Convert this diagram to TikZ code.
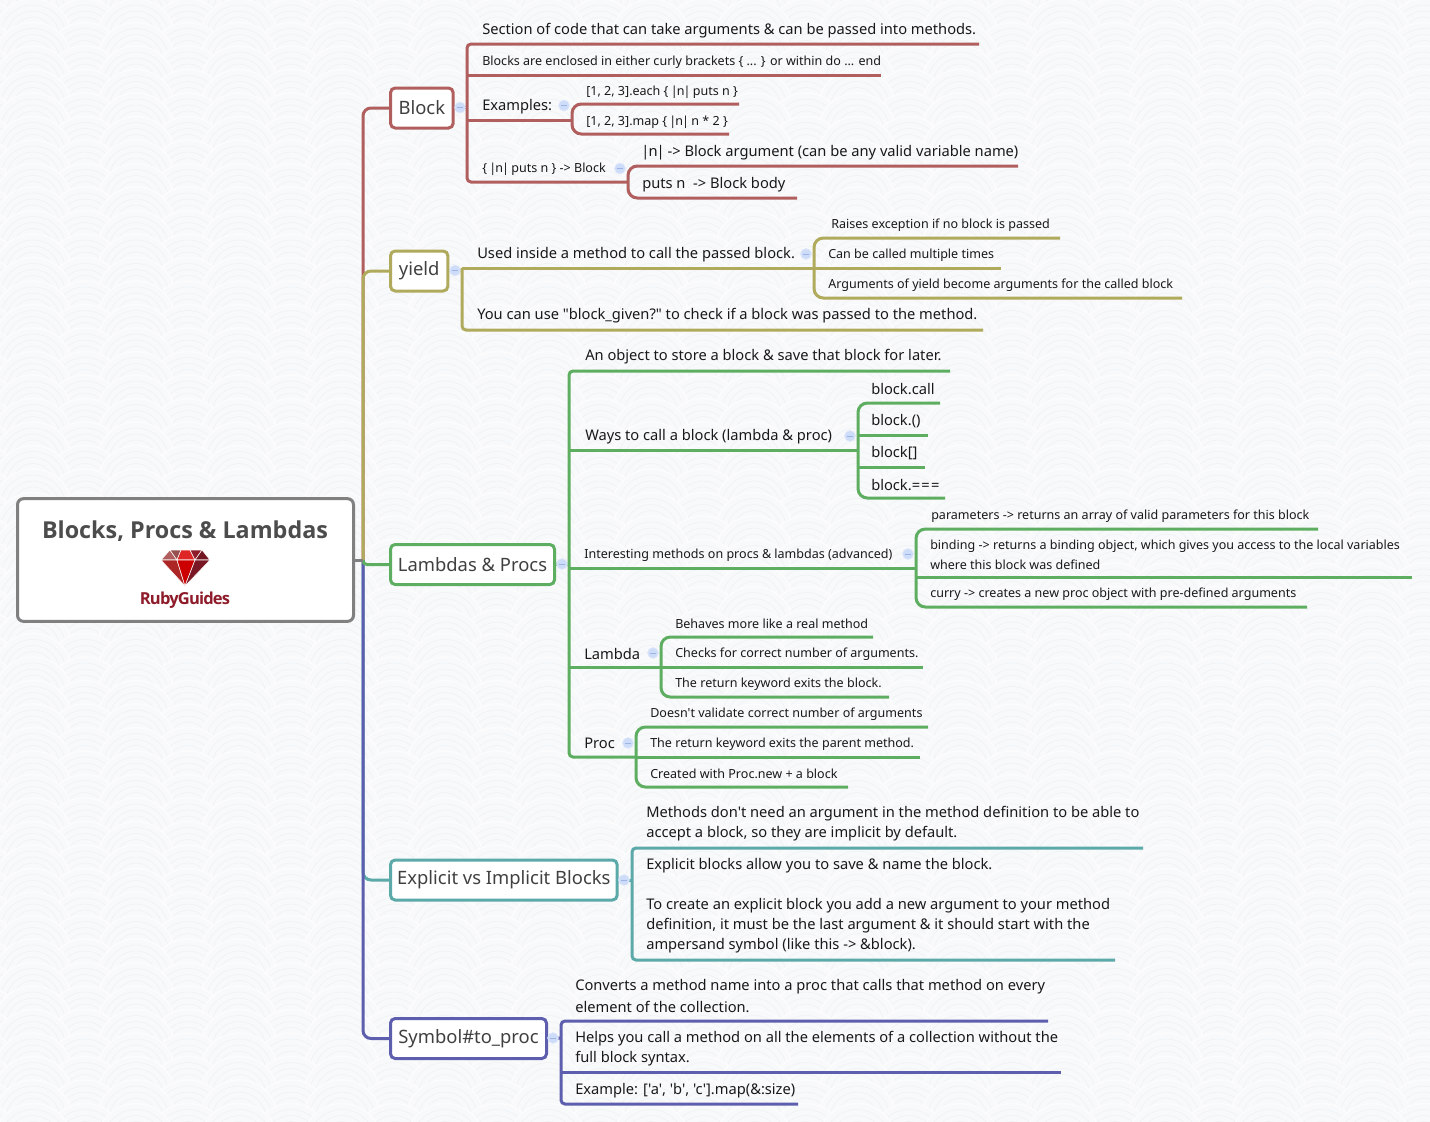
\documentclass[tikz,border=0pt]{standalone}
\usepackage{fontspec}
\usepackage{xcolor}
\usetikzlibrary{positioning}
\setmainfont{Noto Sans}[Ligatures=TeXOff]
\newfontfamily\headfont{Open Sans}[Ligatures=TeXOff]
\newcommand{\pipen}{\kern-.7pt|\kern-.7pt n\kern-.7pt|\kern-.7pt}
\definecolor{blockc}{HTML}{B05E5E}
\definecolor{yieldc}{HTML}{B0AA5C}
\definecolor{lambdac}{HTML}{5EAE62}
\definecolor{explicitc}{HTML}{5CA9AA}
\definecolor{symbolc}{HTML}{5E5EAE}
\definecolor{rootc}{HTML}{808080}
\definecolor{paperc}{HTML}{F8F9FA}
\definecolor{wavec}{HTML}{F0F1F3}
\definecolor{crestc}{HTML}{FCFCFD}
\definecolor{rubyc}{HTML}{8E1B2A}
\definecolor{togglec}{HTML}{CDDCF8}
\definecolor{togringc}{HTML}{DCE6FA}
\definecolor{togbarc}{HTML}{9DB4E4}
\tikzset{
	topic/.style={draw,fill=white,line width=2.25pt,rounded corners=3.5pt,anchor=west,minimum height=30pt,inner sep=0pt,text=black!75,font=\fontsize{13.8}{18}\selectfont},
	leaf/.style={anchor=base west,inner sep=0pt,text=black!90,font=\fontsize{11}{15}\selectfont},
	wee/.style={leaf,font=\fontsize{9.4}{15}\selectfont},
	lines/.style={leaf,anchor=west,align=left},
	twig/.style={line width=2.25pt},
	spine/.style={twig,rounded corners=3pt},
	curl/.style={twig,rounded corners=7pt},
	toggle/.style={circle,minimum size=8pt,inner sep=0pt,fill=togglec,draw=togringc,line width=.6pt,
		path picture={\draw[togbarc,line width=.6pt] ([xshift=-2.2pt]path picture bounding box.center) -- ([xshift=2.2pt]path picture bounding box.center);}}
}
\begin{document}
\begin{tikzpicture}[x=0.75pt,y=-0.75pt]
	\useasboundingbox (0,0) rectangle (1430,1121);
	% (paper)
	\begin{scope}
		\clip (0,0) rectangle (1430,1121);
		\fill[paperc] (0,0) rectangle (1430,1121);
		\foreach \r in {-2,...,47}{
			\foreach \cx in {-18,85,188,291,394,497,600,703,806,909,1012,1115,1218,1321,1424,33,136,239,342,445,548,651,754,857,960,1063,1166,1269,1372}{
				\filldraw[fill=paperc,draw=crestc,line width=1.2pt] (\cx,{\r*23.5+38}) circle (39);
				\draw[wavec,line width=.4pt] (\cx,{\r*23.5+38}) circle (33) circle (27) circle (21) circle (15);
			}
		}
	\end{scope}

	% (trunk)
	\coordinate (hub) at (363,560);
	\node[draw=rootc,fill=white,line width=2.25pt,rounded corners=4.5pt,minimum width=252pt,minimum height=92pt,inner sep=0pt] (root) at (185.5,560) {};
	\node[font=\headfont\bfseries\fontsize{17.5}{20}\selectfont,text=black!70] (title) at (185,531) {Blocks, Procs \& Lambdas};
	\node[font=\headfont\bfseries\fontsize{12.4}{14}\selectfont\addfontfeature{LetterSpace=-5},text=rubyc,inner sep=0pt] (brand) at (185,600) {RubyGuides};

	\begin{scope}[draw=white,line width=.4pt]
		\filldraw[fill=blockc] (170,550) -- (161,560) -- (177,560) -- cycle;
		\filldraw[fill=blockc!85!black] (170,550) -- (181,550) -- (177,560) -- cycle;
		\filldraw[fill=red!60!blockc] (181,550) -- (190,550) -- (195,560) -- (177,560) -- cycle;
		\filldraw[fill=rubyc] (190,550) -- (202,550) -- (195,560) -- cycle;
		\filldraw[fill=rubyc!80!black] (202,550) -- (210,560) -- (195,560) -- cycle;
		\filldraw[fill=red!50!blockc!80!black] (161,560) -- (177,560) -- (185,586) -- cycle;
		\filldraw[fill=red!80!black] (177,560) -- (195,560) -- (185,586) -- cycle;
		\filldraw[fill=rubyc!85!black] (195,560) -- (210,560) -- (185,586) -- cycle;
	\end{scope}

	% (topics)
	\node[topic,draw=blockc,minimum width=47pt] (block) at (389,108) {Block};
	\node[topic,draw=yieldc,minimum width=43pt] (yield) at (389,271) {yield};
	\node[topic,draw=lambdac,minimum width=123pt] (lambda) at (389,564.5) {Lambdas \& Procs};
	\node[topic,draw=explicitc,minimum width=170pt] (explicit) at (389,880) {Explicit vs Implicit Blocks};
	\node[topic,draw=symbolc,minimum width=117pt] (symbol) at (389,1038.5) {Symbol\#to\_proc};

	\draw[spine,blockc,rounded corners=6pt] (hub) -- (hub |- block) -- (block);
	\draw[spine,yieldc,rounded corners=6pt] (hub) -- (hub |- yield) -- (yield);
	\draw[spine,explicitc,rounded corners=6pt] (hub) -- (hub |- explicit) -- (explicit);
	\draw[spine,symbolc,rounded corners=6pt] (hub) -- (hub |- symbol) -- (symbol);
	\draw[spine,lambdac,rounded corners=3pt] (hub) -- (hub |- lambda) -- (lambda);
	\draw[twig,rootc] (root) -- (hub);

	% (Block)
	\coordinate (blockS) at (467,107.5);
	\node[leaf] (blockA) at (482,34) {Section of code that can take arguments \& can be passed into methods.};
	\coordinate (blockAe) at (979,44);
	\node[wee] (blockB) at (482,65) {Blocks are enclosed in either curly brackets \{ ... \} or within do ... end};
	\coordinate (blockBe) at (881,75);
	\node[leaf] (blockC) at (482,110) {Examples:};
	\coordinate (blockCe) at (572,120);
	\node[wee] (blockD) at (482,172.5) {\{ \pipen{} puts n \} -> Block};
	\coordinate (blockDe) at (628,182);
	\draw[twig,blockc] (block) -- (blockS);
	\draw[spine,blockc] (blockAe) -- (blockS |- blockAe) -- (blockS |- blockDe) -- (blockDe);
	\draw[twig,blockc] (blockS |- blockBe) -- (blockBe);
	\draw[twig,blockc] (blockS |- blockCe) -- (blockCe);
	\node[toggle] (blockT) at (460,107.5) {};
	\node[toggle] (blockCT) at (564,105.5) {};
	\node[toggle] (blockDT) at (620,168.5) {};

	\node[wee] (blockCa) at (586,95) {[1, 2, 3].each \{ \pipen{} puts n \}};
	\coordinate (blockCae) at (739,104);
	\node[wee] (blockCb) at (586,125) {[1, 2, 3].map \{ \pipen{} n * 2 \}};
	\coordinate (blockCbe) at (729,134);
	\draw[curl,blockc] (blockCae) -- (blockCe |- blockCae) -- (blockCe |- blockCbe) -- (blockCbe);

	\node[leaf] (blockDa) at (642,156) {\pipen{} -> Block argument (can be any valid variable name)};
	\coordinate (blockDae) at (1018,166);
	\node[leaf] (blockDb) at (642,188) {puts n\ \ -> Block body};
	\coordinate (blockDbe) at (797,198);
	\draw[curl,blockc] (blockDae) -- (blockDe |- blockDae) -- (blockDe |- blockDbe) -- (blockDbe);

	% (yield)
	\coordinate (yieldS) at (462,270.5);
	\node[leaf] (yieldA) at (477,258) {Used inside a method to call the passed block.};
	\coordinate (yieldAe) at (814,268);
	\node[leaf] (yieldB) at (477,319) {You can use "block\_given?" to check if a block was passed to the method.};
	\coordinate (yieldBe) at (983,330);
	\draw[twig,yieldc] (yield) -- (yieldS);
	\draw[spine,yieldc] (yieldS |- yieldAe) -- (yieldS |- yieldBe) -- (yieldBe);
	\draw[twig,yieldc] (yieldS |- yieldAe) -- (yieldAe);
	\node[toggle] (yieldT) at (455,270.5) {};
	\node[toggle] (yieldAT) at (806,254) {};

	\node[wee] (yieldAa) at (831,228) {Raises exception if no block is passed};
	\coordinate (yieldAae) at (1060,238);
	\node[wee] (yieldAb) at (828,258) {Can be called multiple times};
	\coordinate (yieldAbe) at (1001,268);
	\node[wee] (yieldAc) at (828,288) {Arguments of yield become arguments for the called block};
	\coordinate (yieldAce) at (1182,298);
	\draw[curl,yieldc] (yieldAae) -- (yieldAe |- yieldAae) -- (yieldAe |- yieldAce) -- (yieldAce);
	\draw[twig,yieldc] (yieldAe |- yieldAbe) -- (yieldAbe);

	% (Lambdas & Procs)
	\coordinate (lambdaS) at (569,564);
	\node[leaf] (lambdaA) at (585,360) {An object to store a block \& save that block for later.};
	\coordinate (lambdaAe) at (950,371);
	\node[leaf] (lambdaB) at (585,440) {Ways to call a block (lambda \& proc)};
	\coordinate (lambdaBe) at (858,450);
	\node[wee] (lambdaC) at (584,558) {Interesting methods on procs \& lambdas (advanced)};
	\coordinate (lambdaCe) at (916,568);
	\node[leaf] (lambdaD) at (584,659) {Lambda};
	\coordinate (lambdaDe) at (661,667);
	\node[leaf] (lambdaE) at (584,748) {Proc};
	\coordinate (lambdaEe) at (636,757);
	\draw[twig,lambdac] (lambda) -- (lambdaS);
	\draw[spine,lambdac] (lambdaAe) -- (lambdaS |- lambdaAe) -- (lambdaS |- lambdaEe) -- (lambdaEe);
	\draw[twig,lambdac] (lambdaS |- lambdaBe) -- (lambdaBe);
	\draw[twig,lambdac] (lambdaS |- lambdaCe) -- (lambdaCe);
	\draw[twig,lambdac] (lambdaS |- lambdaDe) -- (lambdaDe);
	\node[toggle] (lambdaT) at (562,564) {};
	\node[toggle] (lambdaBT) at (850,436) {};
	\node[toggle] (lambdaCT) at (908,554) {};
	\node[toggle] (lambdaDT) at (653,653) {};
	\node[toggle] (lambdaET) at (628,743) {};

	\node[leaf] (lambdaBa) at (871,394) {block.call};
	\coordinate (lambdaBae) at (940,403);
	\node[leaf] (lambdaBb) at (871,425) {block.()};
	\coordinate (lambdaBbe) at (928,435);
	\node[leaf] (lambdaBc) at (871,457) {block[]};
	\coordinate (lambdaBce) at (925,467);
	\node[leaf] (lambdaBd) at (871,490) {block.=\kern1pt=\kern1pt=};
	\coordinate (lambdaBde) at (945,498);
	\draw[curl,lambdac] (lambdaBae) -- (lambdaBe |- lambdaBae) -- (lambdaBe |- lambdaBde) -- (lambdaBde);
	\draw[twig,lambdac] (lambdaBe |- lambdaBbe) -- (lambdaBbe);
	\draw[twig,lambdac] (lambdaBe |- lambdaBce) -- (lambdaBce);

	\node[wee] (lambdaCa) at (931,519) {parameters -> returns an array of valid parameters for this block};
	\coordinate (lambdaCae) at (1318,529);
	\node[lines,font=\fontsize{9.4}{15}\selectfont] (lambdaCb) at (930,554.5) {binding -> returns a binding object, which gives you access to the local variables\\where this block was defined};
	\coordinate (lambdaCbe) at (1412,577);
	\node[wee] (lambdaCc) at (930,597) {curry -> creates a new proc object with pre-defined arguments};
	\coordinate (lambdaCce) at (1307,607);
	\draw[curl,lambdac] (lambdaCae) -- (lambdaCe |- lambdaCae) -- (lambdaCe |- lambdaCce) -- (lambdaCce);
	\draw[twig,lambdac] (lambdaCe |- lambdaCbe) -- (lambdaCbe);

	\node[wee] (lambdaDa) at (675,628) {Behaves more like a real method};
	\coordinate (lambdaDae) at (873,637);
	\node[wee] (lambdaDb) at (675,657) {Checks for correct number of arguments.};
	\coordinate (lambdaDbe) at (923,667);
	\node[wee] (lambdaDc) at (675,687) {The return keyword exits the block.};
	\coordinate (lambdaDce) at (889,697);
	\draw[curl,lambdac] (lambdaDae) -- (lambdaDe |- lambdaDae) -- (lambdaDe |- lambdaDce) -- (lambdaDce);
	\draw[twig,lambdac] (lambdaDe |- lambdaDbe) -- (lambdaDbe);

	\node[wee] (lambdaEa) at (650,717) {Doesn't validate correct number of arguments};
	\coordinate (lambdaEae) at (928,727);
	\node[wee] (lambdaEb) at (650,747) {The return keyword exits the parent method.};
	\coordinate (lambdaEbe) at (920,757);
	\node[wee] (lambdaEc) at (650,778) {Created with Proc.new + a block};
	\coordinate (lambdaEce) at (848,787);
	\draw[curl,lambdac] (lambdaEae) -- (lambdaEe |- lambdaEae) -- (lambdaEe |- lambdaEce) -- (lambdaEce);
	\draw[twig,lambdac] (lambdaEe |- lambdaEbe) -- (lambdaEbe);

	% (Explicit vs Implicit Blocks)
	\coordinate (explicitS) at (632,880);
	\node[lines] (explicitA) at (646,824) {Methods don't need an argument in the method definition to be able to\\accept a block, so they are implicit by default.};
	\coordinate (explicitAe) at (1143,848);
	\node[lines] (explicitB) at (646,906) {Explicit blocks allow you to save \& name the block.\\[15pt]To create an explicit block you add a new argument to your method\\definition, it must be the last argument \& it should start with the\\ampersand symbol (like this -> \&block).};
	\coordinate (explicitBe) at (1115,960);
	\draw[twig,explicitc] (explicit) -- (explicitS);
	\draw[spine,explicitc] (explicitAe) -- (explicitS |- explicitAe) -- (explicitS |- explicitBe) -- (explicitBe);
	\node[toggle] (explicitT) at (624,880) {};

	% (Symbol#to_proc)
	\coordinate (symbolS) at (561,1038);
	\node[lines,font=\fontsize{11}{16.5}\selectfont] (symbolA) at (575,996) {Converts a method name into a proc that calls that method on every\\element of the collection.};
	\coordinate (symbolAe) at (1048,1021);
	\node[lines] (symbolB) at (575,1049) {Helps you call a method on all the elements of a collection without the\\full block syntax.};
	\coordinate (symbolBe) at (1061,1072);
	\node[leaf] (symbolC) at (575,1094) {Example: ['a', 'b', 'c'].map(\&:size)};
	\coordinate (symbolCe) at (798,1104);
	\draw[twig,symbolc] (symbol) -- (symbolS);
	\draw[spine,symbolc] (symbolAe) -- (symbolS |- symbolAe) -- (symbolS |- symbolCe) -- (symbolCe);
	\draw[twig,symbolc] (symbolS |- symbolBe) -- (symbolBe);
	\node[toggle] (symbolT) at (553,1038) {};
\end{tikzpicture}
\end{document}
